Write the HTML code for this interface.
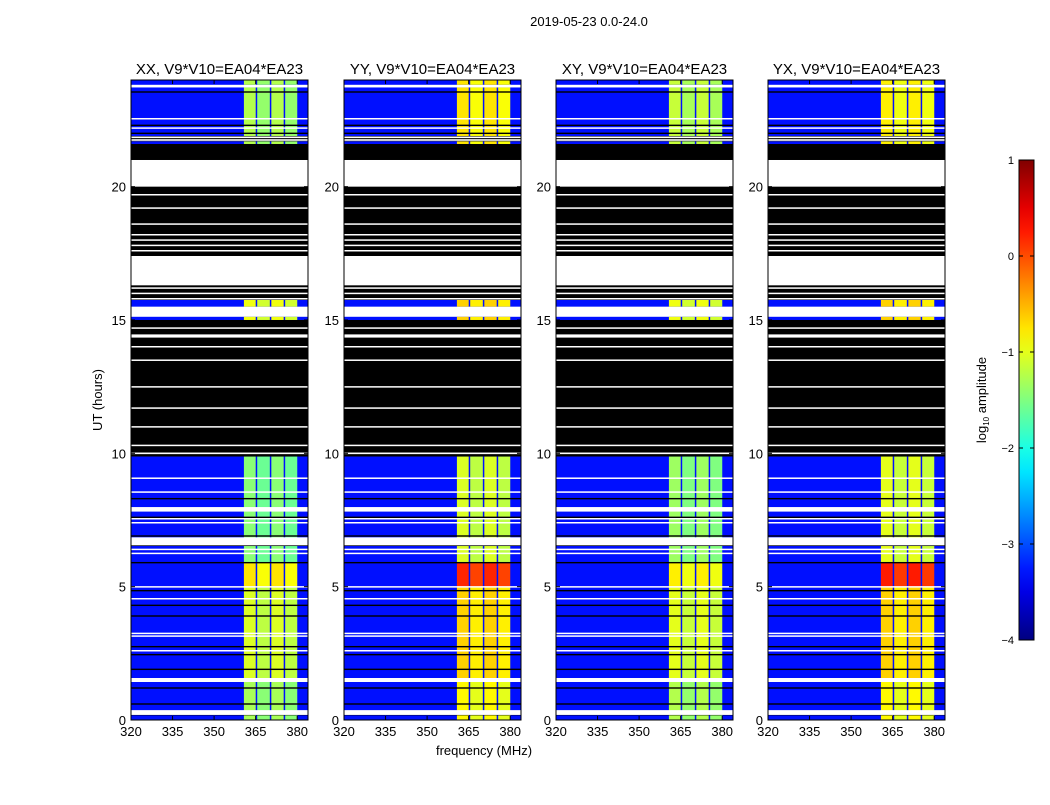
<!DOCTYPE html>
<html><head><meta charset="utf-8">
<style>
body{margin:0;background:#fff;}
svg text{font-family:"Liberation Sans","DejaVu Sans",sans-serif;fill:#000;}
</style></head>
<body>
<svg id="fig" width="1050" height="800" viewBox="0 0 1050 800" xmlns="http://www.w3.org/2000/svg">
<rect width="1050" height="800" fill="#fff"/>
<text x="589" y="26" font-size="13" text-anchor="middle">2019-05-23 0.0-24.0</text>
<text x="484" y="755" font-size="13" text-anchor="middle">frequency (MHz)</text>
<text transform="translate(102,400) rotate(-90)" font-size="13" text-anchor="middle">UT (hours)</text>
<g id="panels"></g>
<g id="cbar"></g>
</svg>
<script>
const panelTitles = ["XX, V9*V10=EA04*EA23","YY, V9*V10=EA04*EA23","XY, V9*V10=EA04*EA23","YX, V9*V10=EA04*EA23"];
const panelX0 = [131,344,556,768];
const xTicks = [320,335,350,365,380];
const yTicks = [0,5,10,15,20];
const cbarTicks = [1,0,-1,-2,-3,-4];
// time segments (hours)
const dataSegs = [[0,9.88],[15.0,15.12],[15.5,15.75],[21.6,21.7],[21.9,23.72],[23.82,24]];
const blackSegs = [[9.88,15.0],[15.75,16.3],[17.4,20.0],[21.0,21.6],[21.7,21.9]];
const whiteLines = [[0.28,0.18],[1.5,0.15],[6.7,0.3],[7.9,0.17],[8.55,0.05],[9.07,0.05],[7.55,0.05],[7.4,0.05],[6.4,0.05],[6.25,0.05],[5.0,0.04],[4.55,0.05],[3.25,0.05],[3.15,0.05],[2.6,0.05],[10.0,0.06],[10.3,0.05],[11.0,0.04],[11.7,0.05],[12.5,0.04],[13.5,0.04],[14.0,0.05],[14.4,0.12],[14.7,0.05],[15.8,0.05],[16.0,0.05],[16.2,0.05],[17.6,0.05],[17.8,0.05],[18.0,0.05],[18.2,0.05],[18.6,0.05],[19.2,0.05],[19.7,0.05],[21.75,0.06],[21.85,0.06],[22.2,0.05],[22.55,0.05]];
const blackLines = [0.2,0.6,1.2,1.9,2.45,2.75,3.9,4.3,4.85,5.9,6.55,6.9,7.6,8.3,23.55,22.0,22.3];
const bandBlocks = [[0,1.5],[1.5,5.0],[5.0,5.9],[5.9,9.9],[15,15.8],[21.5,24]];
const bandLevels = [
  [-1.35,-1.1,-0.8,-1.5,-1.0,-1.3],
  [-0.9,-0.7,0.15,-1.1,-0.7,-0.8],
  [-1.3,-1.05,-0.85,-1.4,-1.0,-1.2],
  [-0.9,-0.7,0.2,-1.05,-0.7,-0.85]];
const subbandEdges = [360.4,365.2,370.3,375.3,380.2];
const bgLevel = -3.3;

const NS="http://www.w3.org/2000/svg";
function jet(v){let t=(v+4)/5;t=Math.max(0,Math.min(1,t));
 const f=x=>Math.max(0,Math.min(1,x));
 const r=f(1.5-Math.abs(4*t-3)),g=f(1.5-Math.abs(4*t-2)),b=f(1.5-Math.abs(4*t-1));
 return `rgb(${Math.round(r*255)},${Math.round(g*255)},${Math.round(b*255)})`;}
function el(tag,attrs,parent){const e=document.createElementNS(NS,tag);for(const k in attrs)e.setAttribute(k,attrs[k]);parent.appendChild(e);return e;}
const yOf=h=>720-h*26.667;
const W=177;
const panels=document.getElementById('panels');
panelX0.forEach((x0,p)=>{
 const xOf=f=>x0+(f-320)*2.77;
 const g=el('g',{},panels);
 
 
 const t=el('text',{x:x0+W/2,y:74,'font-size':15,'text-anchor':'middle'},g);t.textContent=panelTitles[p];
 
 
 dataSegs.forEach(s=>{const r=el('rect',{x:x0,y:yOf(s[1]),width:W,height:yOf(s[0])-yOf(s[1]),fill:jet(bgLevel)},g);
  
  
  bandBlocks.forEach((b,i)=>{const lo=Math.max(b[0],s[0]),hi=Math.min(b[1],s[1]);if(hi<=lo)return;
   for(let k=0;k<4;k++){const c=el('rect',{x:xOf(subbandEdges[k])+1,y:yOf(hi),width:xOf(subbandEdges[k+1])-xOf(subbandEdges[k])-1.5,height:yOf(lo)-yOf(hi),fill:jet(bandLevels[p][i]+(k%2?-0.1:0.05))},g);
    
    }
  });
 });
 blackSegs.forEach(s=>{const r=el('rect',{x:x0,y:yOf(s[1]),width:W,height:yOf(s[0])-yOf(s[1]),fill:'#000'},g);
  
  });
 blackLines.forEach(h=>{const r=el('rect',{x:x0,y:yOf(h)-0.7,width:W,height:1.4,fill:'#000'},g);
  
  });
 whiteLines.forEach(w=>{const r=el('rect',{x:x0,y:yOf(w[0]+w[1]/2),width:W,height:Math.max(1.5,w[1]*26.667),fill:'#fff'},g);
  
  });
 el('rect',{x:x0,y:80,width:W,height:640,fill:'none',stroke:'#000','stroke-width':1},g);
 xTicks.forEach(v=>{const x=xOf(v);el('line',{x1:x,x2:x,y1:720,y2:716,stroke:'#000'},g);el('line',{x1:x,x2:x,y1:80,y2:84,stroke:'#000'},g);
  const tt=el('text',{x:x,y:736,'font-size':13,'text-anchor':'middle'},g);tt.textContent=v;
  
  });
 yTicks.forEach(v=>{const y=yOf(v);el('line',{x1:x0,x2:x0+4,y1:y,y2:y,stroke:'#000'},g);el('line',{x1:x0+W,x2:x0+W-4,y1:y,y2:y,stroke:'#000'},g);
  const tt=el('text',{x:x0-5,y:y+5,'font-size':13,'text-anchor':'end'},g);tt.textContent=v;
  
  });
});
// colorbar
const cb=document.getElementById('cbar');
const cbY=v=>160+(1-v)*96;
const defs=el('defs',{},cb);
const lg=el('linearGradient',{id:'jetg',x1:0,y1:1,x2:0,y2:0},defs);
for(let i=0;i<=20;i++){el('stop',{offset:i/20,'stop-color':jet(-4+5*i/20)},lg);}
const bar=el('rect',{x:1019,y:160,width:15,height:480,fill:'url(#jetg)',stroke:'#000','stroke-width':1},cb);


cbarTicks.forEach(v=>{const y=cbY(v);el('line',{x1:1019,x2:1023,y1:y,y2:y,stroke:'#000'},cb);el('line',{x1:1034,x2:1030,y1:y,y2:y,stroke:'#000'},cb);
 const tt=el('text',{x:1014,y:y+4,'font-size':11,'text-anchor':'end'},cb);tt.textContent=v<0?'\u2212'+(-v):v;
 
 });
const cl=el('text',{transform:'translate(986,400) rotate(-90)','font-size':13,'text-anchor':'middle'},cb);
cl.innerHTML='log<tspan font-size="8" dy="3">10</tspan><tspan dy="-3"> amplitude</tspan>';


</script>
</body></html>
